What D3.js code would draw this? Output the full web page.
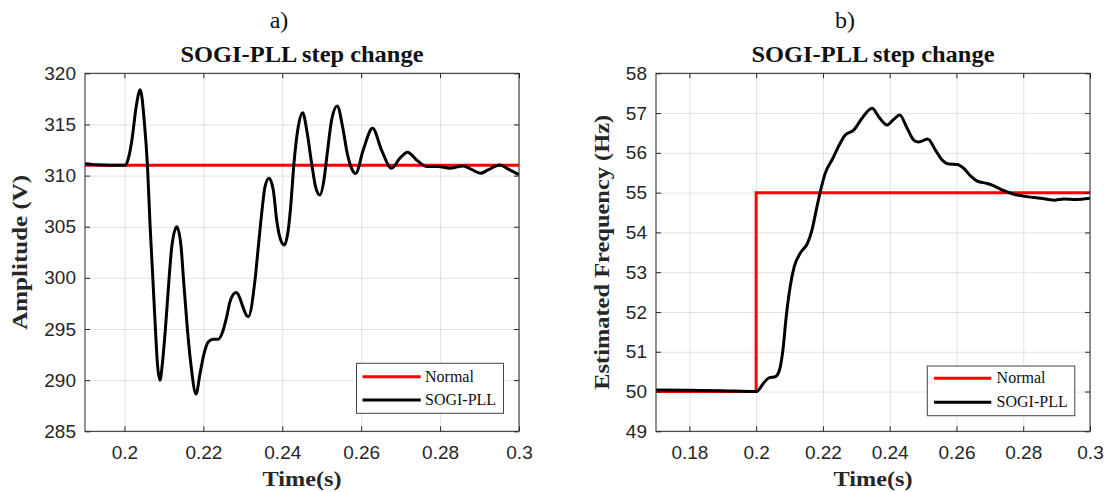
<!DOCTYPE html>
<html><head><meta charset="utf-8">
<script src="https://cdn.jsdelivr.net/npm/d3@7"></script>
<style>body{margin:0;background:#fff}svg{display:block}</style>
</head><body>
<svg id="chart" width="1112" height="492"></svg>
<script>
// ---------- DATA ----------
const ampTime = [0.1900,0.1930,0.1960,0.2000,0.2003,0.2012,0.2019,0.2030,0.2040,0.20507,0.20582,0.20651,0.20719,0.20785,0.20835,0.2090,
  0.20962,0.21038,0.21132,0.21200,0.21327,0.21435,0.21494,0.21595,0.21681,0.21815,0.21916,0.22018,0.22127,0.22253,0.2238,0.22491,0.22592,0.22676,
  0.22828,0.23139,0.23309,0.23393,0.23478,0.23562,0.23663,0.23772,0.23858,0.2396,0.24051,0.24152,0.24213,0.24296,0.24405,0.24516,
  0.24633,0.24744,0.24853,0.24954,0.25056,0.2514,0.25251,0.25392,0.25529,0.25646,0.25757,0.2586,0.26051,0.26289,0.26516,0.2677,0.2698,0.27175,
  0.27403,0.27656,0.2795,0.28246,0.28582,0.28795,0.29023,0.29215,0.29511,0.29739,0.3000];
const ampSogi = [311.15,311.05,311.02,311.02,311.05,312.0,313.5,316.8,318.4,315.11,311.04,305.0,300.0,295.0,291.65,290.0,
  291.65,295.0,300.0,303.05,305.0,303.05,300.0,295.0,291.65,288.65,290.67,292.6,293.75,294.0,294.0,294.75,296.2,297.68,
  298.56,296.2,299.8,303.05,306.3,308.9,309.74,308.6,305.66,303.7,303.22,304.7,306.97,311.2,314.78,316.15,
  314.13,311.2,308.76,308.1,309.57,312.18,315.43,316.8,314.78,312.18,310.7,310.2,312.5,314.62,312.5,310.71,311.69,312.28,
  311.53,310.9,310.9,310.72,310.94,310.6,310.22,310.55,311.04,310.6,310.1];
const ampNormalTime = [0.19, 0.30];
const ampNormal = [311, 311];
const ampXTicks = [0.2, 0.22, 0.24, 0.26, 0.28, 0.3];
const ampYTicks = [285, 290, 295, 300, 305, 310, 315, 320];

const freqTime = [0.1700,0.1800,0.1900,0.1995,0.2002,0.20219,0.20399,0.2057,0.20699,0.20801,0.2090,0.2102,0.2114,0.2132,0.2154,0.21672,0.2180,
  0.2192,0.2207,0.22271,0.22521,0.2267,0.2292,0.23172,0.23472,0.2367,0.23922,0.2412,0.2430,0.24522,0.2472,0.2487,0.2514,0.25371,0.25572,
  0.2577,0.26022,0.2622,0.26421,0.26622,0.26922,0.2712,0.2742,0.2772,0.28112,0.28521,0.2892,0.2922,0.29571,0.3000];
const freqSogi = [50.04,50.03,50.02,50.0,50.0,50.21,50.35,50.37,50.54,51.04,51.88,52.64,53.14,53.48,53.73,54.06,54.56,
  55.02,55.49,55.82,56.25,56.45,56.57,56.87,57.12,56.91,56.70,56.84,56.95,56.62,56.32,56.27,56.35,56.07,55.82,
  55.72,55.71,55.61,55.42,55.29,55.23,55.17,55.05,54.96,54.90,54.86,54.81,54.84,54.83,54.86];
const freqNormalTime = [0.17, 0.20, 0.30];
const freqNormal = [50, 55, 55];
const freqXTicks = [0.18, 0.2, 0.22, 0.24, 0.26, 0.28, 0.3];
const freqYTicks = [49, 50, 51, 52, 53, 54, 55, 56, 57, 58];

const seriesLabels = ["Normal", "SOGI-PLL"];
const panelTitle = "SOGI-PLL step change";
const xLabel = "Time(s)";
// ---------- DRAW ----------
const svg = d3.select("#chart");
const SERIF = "'Liberation Serif','Times New Roman',serif";
const SANS = "'Liberation Sans',Arial,sans-serif";
const AX = "#262626";

function panel(o) {
  const top = 73.3, bottom = 431.3;
  const x = d3.scaleLinear().domain(o.xDomain).range([o.x0, o.x1]);
  const y = d3.scaleLinear().domain(o.yDomain).range([bottom, top]);
  const g = svg.append("g");
  const fmt = d => String(+d.toFixed(2));

  // grid
  g.append("g").attr("transform", `translate(0,${bottom})`)
    .call(d3.axisBottom(x).tickValues(o.xTicks).tickSize(-(bottom - top)).tickFormat(""))
    .call(s => s.select(".domain").remove())
    .call(s => s.selectAll("line").attr("stroke", AX).attr("stroke-opacity", 0.13));
  g.append("g").attr("transform", `translate(${o.x0},0)`)
    .call(d3.axisLeft(y).tickValues(o.yTicks).tickSize(-(o.x1 - o.x0)).tickFormat(""))
    .call(s => s.select(".domain").remove())
    .call(s => s.selectAll("line").attr("stroke", AX).attr("stroke-opacity", 0.13));

  // clip
  const cid = "clip" + o.id;
  svg.append("clipPath").attr("id", cid).append("rect")
    .attr("x", o.x0).attr("y", top).attr("width", o.x1 - o.x0).attr("height", bottom - top);

  const normal = o.normalT.map((t, i) => [t, o.normalV[i]]);
  const sogi = o.sogiT.map((t, i) => [t, o.sogiV[i]]);
  g.append("path").datum(normal).attr("clip-path", `url(#${cid})`)
    .attr("fill", "none").attr("stroke", "#ff0000").attr("stroke-width", 3)
    .attr("d", d3.line().x(d => x(d[0])).y(d => y(d[1])).curve(d3.curveStepAfter));
  g.append("path").datum(sogi).attr("clip-path", `url(#${cid})`)
    .attr("fill", "none").attr("stroke", "#000").attr("stroke-width", 3).attr("stroke-linejoin", "round")
    .attr("d", d3.line().x(d => x(d[0])).y(d => y(d[1])).curve(d3.curveMonotoneX));

  // axes
  const styleAx = s => {
    s.select(".domain").remove();
    s.selectAll("line").attr("stroke", AX).attr("stroke-width", 1);
    s.selectAll("text").attr("fill", AX).attr("font-family", SANS).attr("font-size", 19);
  };
  g.append("g").attr("transform", `translate(0,${bottom})`)
    .call(d3.axisBottom(x).tickValues(o.xTicks).tickSize(-5).tickPadding(14.5).tickFormat(fmt)).call(styleAx);
  g.append("g").attr("transform", `translate(0,${top})`)
    .call(d3.axisTop(x).tickValues(o.xTicks).tickSize(-5).tickFormat("")).call(styleAx);
  g.append("g").attr("transform", `translate(${o.x0},0)`)
    .call(d3.axisLeft(y).tickValues(o.yTicks).tickSize(-5).tickPadding(9).tickFormat(fmt)).call(styleAx);
  g.append("g").attr("transform", `translate(${o.x1},0)`)
    .call(d3.axisRight(y).tickValues(o.yTicks).tickSize(-5).tickFormat("")).call(styleAx);
  g.append("rect").attr("x", o.x0).attr("y", top).attr("width", o.x1 - o.x0).attr("height", bottom - top)
    .attr("fill", "none").attr("stroke", AX).attr("stroke-width", 1);

  // texts
  g.append("text").attr("x", o.letterX).attr("y", 28).attr("text-anchor", "middle")
    .attr("font-family", SERIF).attr("font-size", 24).attr("fill", "#111").text(o.letter);
  g.append("text").attr("x", (o.x0 + o.x1) / 2).attr("y", 62).attr("text-anchor", "middle")
    .attr("font-family", SERIF).attr("font-weight", "bold").attr("font-size", 23).attr("fill", "#111")
    .attr("textLength", 243).attr("lengthAdjust", "spacingAndGlyphs").text(panelTitle);
  g.append("text").attr("x", (o.x0 + o.x1) / 2).attr("y", 485.5).attr("text-anchor", "middle")
    .attr("font-family", SERIF).attr("font-weight", "bold").attr("font-size", 22).attr("fill", AX)
    .attr("textLength", 79).attr("lengthAdjust", "spacingAndGlyphs").text(xLabel);
  g.append("text").attr("transform", `translate(${o.ylabX},${(top + bottom) / 2}) rotate(-90)`)
    .attr("text-anchor", "middle")
    .attr("font-family", SERIF).attr("font-weight", "bold").attr("font-size", 22).attr("fill", AX)
    .attr("textLength", o.ylabLen).attr("lengthAdjust", "spacingAndGlyphs").text(o.ylab);

  // legend
  const L = o.legend;
  g.append("rect").attr("x", L.x0).attr("y", L.y0).attr("width", L.x1 - L.x0).attr("height", L.y1 - L.y0)
    .attr("fill", "#fff").attr("stroke", "#444").attr("stroke-width", 1);
  const colors = ["#ff0000", "#000"];
  seriesLabels.forEach((lab, i) => {
    const ly = L.ys[i];
    g.append("line").attr("x1", L.lx0).attr("x2", L.lx1).attr("y1", ly).attr("y2", ly)
      .attr("stroke", colors[i]).attr("stroke-width", 3);
    g.append("text").attr("x", L.tx).attr("y", ly + 5).attr("font-family", SERIF).attr("font-size", 16)
      .attr("fill", "#111").text(lab);
  });
}

panel({
  id: "a", x0: 85, x1: 519, xDomain: [0.19, 0.3], yDomain: [285, 320],
  xTicks: ampXTicks, yTicks: ampYTicks,
  normalT: ampNormalTime, normalV: ampNormal, sogiT: ampTime, sogiV: ampSogi,
  letter: "a)", letterX: 279, ylab: "Amplitude (V)", ylabX: 27, ylabLen: 155,
  legend: { x0: 356.5, x1: 503.5, y0: 363.3, y1: 413.3, lx0: 362.5, lx1: 420.7, tx: 425, ys: [376.7, 400] }
});
panel({
  id: "b", x0: 656, x1: 1090, xDomain: [0.17, 0.3], yDomain: [49, 58],
  xTicks: freqXTicks, yTicks: freqYTicks,
  normalT: freqNormalTime, normalV: freqNormal, sogiT: freqTime, sogiV: freqSogi,
  letter: "b)", letterX: 845, ylab: "Estimated Frequency (Hz)", ylabX: 609, ylabLen: 275,
  legend: { x0: 927.3, x1: 1074.8, y0: 366, y1: 415.7, lx0: 934, lx1: 991.3, tx: 996.6, ys: [378.3, 402.3] }
});
</script>
</body></html>
